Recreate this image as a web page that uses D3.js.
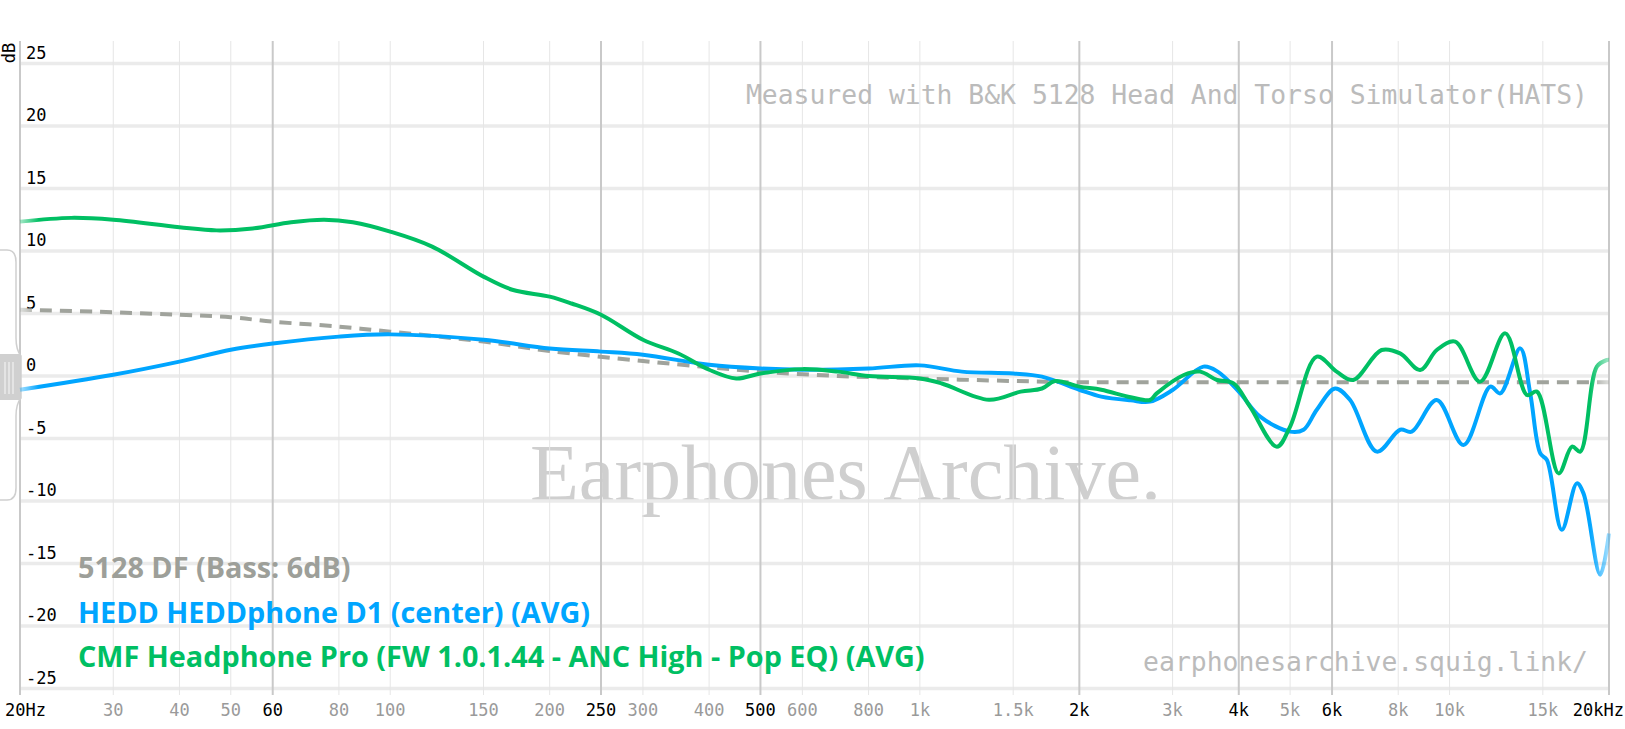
<html>
  <head>
    <meta charset="utf-8" />
    <script src="https://d3js.org/d3.v7.min.js"></script>
    <style>
      body {
        margin: 0;
        background: #ffffff;
      }
      svg {
        display: block;
      }
      .mono {
        font-family: "DejaVu Sans Mono", monospace;
      }
    </style>
  </head>
  <body>
    <svg width="1625" height="729"></svg>
    <script>
      // frequency ticks along the bottom
      const freqTicks = [20, 30, 40, 50, 60, 80, 100, 150, 200, 250, 300, 400, 500, 600, 800, 1000,
        1500, 2000, 3000, 4000, 5000, 6000, 8000, 10000, 15000, 20000];
      const freqLabels = ["20Hz", "30", "40", "50", "60", "80", "100", "150", "200", "250", "300", "400",
        "500", "600", "800", "1k", "1.5k", "2k", "3k", "4k", "5k", "6k", "8k", "10k", "15k", "20kHz"];
      const majorFreqs = [20, 60, 250, 500, 2000, 4000, 6000, 20000];
      const dbTicks = [25, 20, 15, 10, 5, 0, -5, -10, -15, -20, -25];

      // 5128 DF target (bass 6dB)
      const targetFreq = [20, 30, 40, 50, 60, 80, 100, 150, 200, 300, 400, 500, 700, 1000, 1500, 2000, 3000, 20000];
      const targetDb = [5.3, 5.1, 4.9, 4.7, 4.35, 3.95, 3.55, 2.75, 2.0, 1.2, 0.7, 0.35, 0.0, -0.2, -0.4, -0.5, -0.5, -0.5];

      // HEDD HEDDphone D1
      const heddFreq = [20, 30, 40, 50, 60, 80, 100, 150, 200, 250, 300, 400, 500, 600, 800, 1000, 1200, 1500,
        1700, 2000, 2200, 2500, 2720, 3000, 3430, 3650, 4000, 4390, 5000, 5300, 5615, 6080, 6490, 7290, 8065,
        8485, 9460, 10625, 11935, 12465, 13595, 14200, 14835, 15270, 16290, 17390, 17900, 19250, 20000];
      const heddDb = [-1.1, 0.1, 1.15, 2.1, 2.6, 3.15, 3.33, 2.9, 2.2, 1.95, 1.7, 0.9, 0.6, 0.5, 0.6, 0.85, 0.35, 0.2,
        -0.05, -1.1, -1.65, -1.95, -2.05, -1.12, 0.75, 0.35, -1.25, -3.25, -4.45, -4.3, -2.7, -1.0, -1.92, -6.05, -4.3,
        -4.45, -1.92, -5.52, -0.85, -1.39, 2.21, -1.39, -6.19, -6.72, -12.3, -8.59, -9.39, -15.9, -12.6];

      // CMF Headphone Pro (Pop EQ)
      const cmfFreq = [20, 25, 30, 40, 47, 55, 65, 75, 85, 100, 120, 150, 170, 200, 220, 250, 300, 350, 400, 450,
        500, 600, 700, 800, 1000, 1100, 1350, 1550, 1700, 1800, 2000, 2200, 2500, 2720, 2800, 3150, 3380, 3640,
        3910, 4200, 4720, 5000, 5615, 6120, 6580, 7440, 8065, 8800, 9460, 10250, 11420, 12740, 14000, 14620,
        16070, 17030, 17650, 18970, 19820, 20000];
      const cmfDb = [12.35, 12.65, 12.5, 11.9, 11.65, 11.8, 12.3, 12.5, 12.3, 11.55, 10.35, 7.95, 6.9, 6.35, 5.8, 4.9,
        2.9, 1.8, 0.5, -0.2, 0.2, 0.55, 0.35, 0.0, -0.2, -0.6, -1.9, -1.25, -1.0, -0.4, -0.85, -1.1, -1.7, -1.92,
        -1.39, 0.08, 0.35, -0.32, -0.59, -2.45, -5.65, -4.05, 1.55, 0.35, -0.32, 2.08, 1.81, 0.48, 2.08, 2.75,
        -0.45, 3.41, -1.52, -1.25, -7.79, -5.65, -6.05, 0.75, 1.28, 1.3];

      const legendNames = ["5128 DF (Bass: 6dB)", "HEDD HEDDphone D1 (center) (AVG)",
        "CMF Headphone Pro (FW 1.0.1.44 - ANC High - Pop EQ) (AVG)"];
      const legendColors = ["#9d9f99", "#00a5ff", "#00bf63"];

      const svg = d3.select("svg");

      const xScale = d3.scaleLog().domain([20, 20000]).range([20, 1609]);
      const yScale = d3.scaleLinear().domain([-25, 25]).range([688.5, 63.5]);

      // watermark
      svg.append("text")
        .attr("x", 530)
        .attr("y", 500)
        .style("font-family", "'Liberation Serif', serif")
        .style("font-size", "80px")
        .style("fill", "#cfcfcf")
        .text("Earphones Archive.");

      // horizontal grid
      svg.append("g")
        .selectAll("line")
        .data(dbTicks)
        .enter()
        .append("line")
        .attr("x1", 20)
        .attr("x2", 1609)
        .attr("y1", (d) => yScale(d))
        .attr("y2", (d) => yScale(d))
        .attr("stroke", "#ebebeb")
        .attr("stroke-width", 3.5);

      // vertical grid
      svg.append("g")
        .selectAll("line")
        .data(freqTicks)
        .enter()
        .append("line")
        .attr("x1", (d) => xScale(d))
        .attr("x2", (d) => xScale(d))
        .attr("y1", 41)
        .attr("y2", 695)
        .attr("stroke", (d) => (majorFreqs.includes(d) ? "#c9c9c9" : "#e6e6e6"))
        .attr("stroke-width", (d) => (majorFreqs.includes(d) ? 2 : 1));

      // y labels
      svg.append("g")
        .selectAll("text")
        .data(dbTicks)
        .enter()
        .append("text")
        .attr("class", "mono")
        .attr("x", 26)
        .attr("y", (d) => yScale(d) - 5)
        .style("font-size", "17px")
        .style("fill", "#000")
        .text((d) => d);

      svg.append("text")
        .attr("class", "mono")
        .attr("transform", "translate(15,53) rotate(-90)")
        .attr("text-anchor", "middle")
        .style("font-size", "17px")
        .text("dB");

      // x labels
      svg.append("g")
        .selectAll("text")
        .data(freqTicks)
        .enter()
        .append("text")
        .attr("class", "mono")
        .attr("x", (d, i) => (i === 0 ? 5 : i === freqTicks.length - 1 ? 1624 : xScale(d)))
        .attr("y", 716)
        .attr("text-anchor", (d, i) => (i === 0 ? "start" : i === freqTicks.length - 1 ? "end" : "middle"))
        .style("font-size", "17px")
        .style("fill", (d) => (majorFreqs.includes(d) ? "#000" : "#9a9a9a"))
        .text((d, i) => freqLabels[i]);

      // left scaling handle
      svg.append("path")
        .attr("d", "M0,250 H7 Q16,250 16,262 V338 Q16,350 21,356 V398 Q16,404 16,416 V488 Q16,500 7,500 H0")
        .attr("fill", "none")
        .attr("stroke", "#cfcfcf")
        .attr("stroke-width", 1.5);
      svg.append("rect")
        .attr("x", 0)
        .attr("y", 354)
        .attr("width", 20)
        .attr("height", 46)
        .attr("fill", "#d0d0d0");
      svg.append("g")
        .selectAll("line")
        .data([5, 9, 13])
        .enter()
        .append("line")
        .attr("x1", (d) => d)
        .attr("x2", (d) => d)
        .attr("y1", 362)
        .attr("y2", 394)
        .attr("stroke", "#f2f2f2")
        .attr("stroke-width", 1.2);

      // fade at the ends of the curves
      const defs = svg.append("defs");
      const grad = defs.append("linearGradient")
        .attr("id", "fade")
        .attr("gradientUnits", "userSpaceOnUse")
        .attr("x1", 20)
        .attr("x2", 1609)
        .attr("y1", 0)
        .attr("y2", 0);
      grad.append("stop").attr("offset", 0).attr("stop-color", "#fff").attr("stop-opacity", 0.35);
      grad.append("stop").attr("offset", 0.012).attr("stop-color", "#fff").attr("stop-opacity", 1);
      grad.append("stop").attr("offset", 0.988).attr("stop-color", "#fff").attr("stop-opacity", 1);
      grad.append("stop").attr("offset", 1).attr("stop-color", "#fff").attr("stop-opacity", 0.35);
      defs.append("mask")
        .attr("id", "fadeMask")
        .attr("maskUnits", "userSpaceOnUse")
        .attr("x", 0).attr("y", 0).attr("width", 1625).attr("height", 729)
        .append("rect")
        .attr("x", 0)
        .attr("y", 0)
        .attr("width", 1625)
        .attr("height", 729)
        .attr("fill", "url(#fade)");

      const line = d3
        .line()
        .x((d) => xScale(d[0]))
        .y((d) => yScale(d[1]))
        .curve(d3.curveCatmullRom.alpha(0.5));

      const curves = svg.append("g").attr("mask", "url(#fadeMask)");

      curves.append("path")
        .datum(d3.zip(targetFreq, targetDb))
        .attr("d", line)
        .attr("fill", "none")
        .attr("stroke", "#a0a39c")
        .attr("stroke-width", 4)
        .attr("stroke-dasharray", "12,8");

      curves.append("path")
        .datum(d3.zip(heddFreq, heddDb))
        .attr("d", line)
        .attr("fill", "none")
        .attr("stroke", legendColors[1])
        .attr("stroke-width", 4);

      curves.append("path")
        .datum(d3.zip(cmfFreq, cmfDb))
        .attr("d", line)
        .attr("fill", "none")
        .attr("stroke", legendColors[2])
        .attr("stroke-width", 4);

      // captions
      svg.append("text")
        .attr("class", "mono")
        .attr("x", 1588)
        .attr("y", 104)
        .attr("text-anchor", "end")
        .style("font-size", "26.4px")
        .style("fill", "#bbbbbb")
        .text("Measured with B&K 5128 Head And Torso Simulator(HATS)");

      svg.append("text")
        .attr("class", "mono")
        .attr("x", 1588)
        .attr("y", 671)
        .attr("text-anchor", "end")
        .style("font-size", "26.4px")
        .style("fill", "#bbbbbb")
        .text("earphonesarchive.squig.link/");

      // legend
      svg.append("g")
        .selectAll("text")
        .data(legendNames)
        .enter()
        .append("text")
        .attr("x", 78)
        .attr("y", (d, i) => 578 + i * 44.5)
        .style("font-family", "'Open Sans', sans-serif")
        .style("font-weight", 700)
        .style("font-size", "28.8px")
        .style("fill", (d, i) => legendColors[i])
        .text((d) => d);
    </script>
  </body>
</html>
